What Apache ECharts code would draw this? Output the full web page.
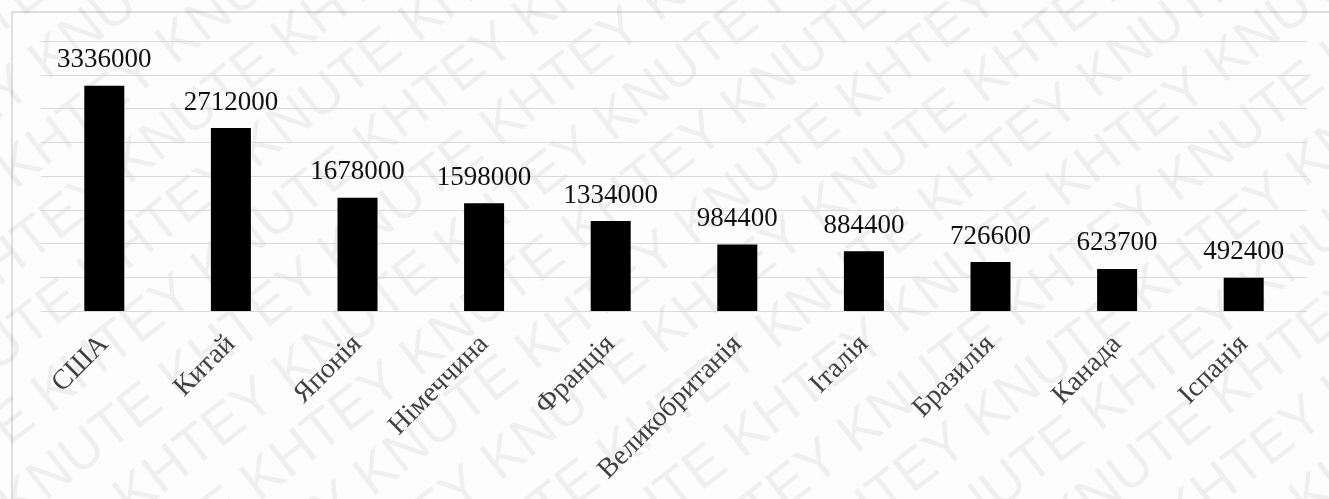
<!DOCTYPE html>
<html>
<head>
<meta charset="utf-8">
<script src="https://cdn.jsdelivr.net/npm/echarts@6/dist/echarts.min.js"></script>
<style>
  html, body { margin: 0; padding: 0; background: #ffffff; }
  #chart { width: 1329px; height: 499px; }
</style>
</head>
<body>
<div id="chart"></div>
<script>
// Countries and their values
const countries = ['США', 'Китай', 'Японія', 'Німеччина', 'Франція', 'Великобританія', 'Італія', 'Бразилія', 'Канада', 'Іспанія'];
const values = [3336000, 2712000, 1678000, 1598000, 1334000, 984400, 884400, 726600, 623700, 492400];

// Value axis range (hidden labels, gridlines only)
const axisMin = 0;
const axisMax = 4000000;
const axisStep = 500000;

// Repeated diagonal background text
const watermarkWords = ['KHTEY', 'KNUTE'];

const chart = echarts.init(document.getElementById('chart'), null, { renderer: 'canvas' });

function buildWatermark() {
  const rows = [];
  const line = Array(12).fill(watermarkWords.join(' ')).join(' ');
  const spacing = 66;
  for (let k = -12; k <= 12; k++) {
    rows.push({
      type: 'text',
      x: -1400 + ((k % 2 + 2) % 2) * 110,
      y: k * spacing,
      style: {
        text: line,
        font: '56px "Liberation Sans", Arial, sans-serif',
        fill: 'rgba(0,0,0,0.055)',
        textVerticalAlign: 'middle'
      }
    });
  }
  return {
    type: 'group',
    x: 664,
    y: 250,
    rotation: 38 * Math.PI / 180,
    z: -10,
    silent: true,
    children: rows
  };
}

const option = {
  backgroundColor: '#fdfdfd',
  animation: false,
  graphic: [
    buildWatermark(),
    {
      type: 'rect',
      z: -5,
      silent: true,
      shape: { x: 12, y: 12, width: 1340, height: 520 },
      style: { fill: 'none', stroke: '#d4d4d4', lineWidth: 1.5 }
    }
  ],
  grid: { left: 41, right: 22, top: 41, bottom: 188, containLabel: false },
  xAxis: {
    type: 'category',
    data: countries,
    axisLine: { show: true, lineStyle: { color: '#d9d9d9', width: 1 } },
    axisTick: { show: false },
    axisLabel: {
      rotate: 45,
      interval: 0,
      margin: 29,
      color: '#404040',
      fontFamily: '"Liberation Serif", "Times New Roman", serif',
      fontSize: 28
    }
  },
  yAxis: {
    type: 'value',
    min: axisMin,
    max: axisMax,
    interval: axisStep,
    axisLabel: { show: false },
    axisLine: { show: false },
    axisTick: { show: false },
    splitLine: { show: true, lineStyle: { color: '#d9d9d9', width: 1 } }
  },
  series: [{
    type: 'bar',
    data: values,
    barWidth: 40,
    itemStyle: { color: '#000000' },
    label: {
      show: true,
      position: 'top',
      distance: 12,
      color: '#111111',
      fontFamily: '"Liberation Serif", "Times New Roman", serif',
      fontSize: 27
    }
  }]
};

chart.setOption(option);
</script>
</body>
</html>
